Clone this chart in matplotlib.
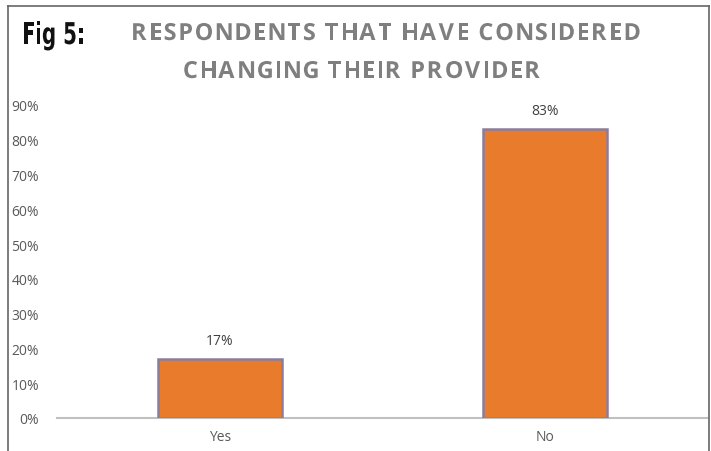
import matplotlib
matplotlib.use("Agg")
import matplotlib.pyplot as plt
from matplotlib.lines import Line2D
from matplotlib.ticker import FuncFormatter
from matplotlib.textpath import TextPath
from matplotlib.patches import PathPatch
from matplotlib.font_manager import FontProperties
from matplotlib.transforms import Affine2D

categories = ["Yes", "No"]
values = [0.17, 0.83]
yticks = [0.0, 0.1, 0.2, 0.3, 0.4, 0.5, 0.6, 0.7, 0.8, 0.9]
fig_label = "Fig 5:"
title_lines = ["RESPONDENTS THAT HAVE CONSIDERED", "CHANGING THEIR PROVIDER"]

W, H = 711, 452
fig = plt.figure(figsize=(W / 100, H / 100), dpi=100)

def fx(px):
    return px / W

def fy(py):
    return 1 - py / H

ax = fig.add_axes([fx(57), fy(419), fx(708) - fx(57), fy(106) - fy(419)])
x = list(range(len(categories)))
ax.bar(x, values, width=0.38, color="#E97B2C", edgecolor="#8A7D9C", linewidth=1.8, zorder=3)
ax.set_xlim(-0.5, 1.5)
ax.set_ylim(0, 0.9)
ax.set_yticks(yticks)
ax.yaxis.set_major_formatter(FuncFormatter(lambda v, p: f"{v*100:.0f}%"))
ax.set_xticks(x)
ax.set_xticklabels(categories)
for s in ["top", "right", "left"]:
    ax.spines[s].set_visible(False)
ax.spines["bottom"].set_color("#C0C0C0")
ax.spines["bottom"].set_linewidth(1.5)
ax.tick_params(axis="both", length=0, colors="#595959", labelsize=10)
ax.tick_params(axis="y", pad=13)
ax.tick_params(axis="x", pad=8)
for lab in ax.get_xticklabels() + ax.get_yticklabels():
    lab.set_fontfamily("Open Sans")

for xi, v in zip(x, values):
    ax.annotate(f"{v*100:.0f}%", (xi, v), xytext=(0, 8), textcoords="offset points",
                ha="center", va="bottom", fontsize=10, color="#404040", family="Open Sans")


def glyph_layout(s, size_px, prop, sx):
    items = []
    cur = 0.0
    gaps = 0
    space_adv = (TextPath((0, 0), "a a", size=size_px, prop=prop).get_extents().width -
                 TextPath((0, 0), "aa", size=size_px, prop=prop).get_extents().width)
    for ch in s:
        if ch == " ":
            cur += space_adv * sx
            gaps += 1
            continue
        tp = TextPath((0, 0), ch, size=size_px, prop=prop)
        ext = tp.get_extents()
        items.append((tp, cur, gaps))
        cur += (ext.x1 + size_px * 0.06) * sx
        gaps += 1
    return items, cur, gaps - 1


def add_text(s, y_base, size_px, prop, color, sx=1.0, spacing=None, x_left=None,
             center=None, width=None):
    items, natural, ngaps = glyph_layout(s, size_px, prop, sx)
    if spacing is None:
        spacing = (width - natural) / max(ngaps, 1) if width is not None else 0.0
    total = natural + spacing * ngaps
    if center is not None:
        x_left = center - total / 2
    for tp, off, g in items:
        tr = Affine2D().scale(sx, 1).translate(x_left + off + g * spacing, H - y_base)
        p = PathPatch(tr.transform_path(tp), facecolor=color, edgecolor="none")
        p.set_transform(Affine2D())
        fig.add_artist(p)
    return spacing


prop_fig = FontProperties(family="DejaVu Sans", weight="bold")
add_text(fig_label, 45, 30, prop_fig, "#111111", sx=0.66, spacing=0.3, x_left=22)

prop_title = FontProperties(family="Open Sans", weight="bold")
sp = add_text(title_lines[0], 41, 23.5, prop_title, "#7F7F7F", sx=1.0, center=386, width=510)
add_text(title_lines[1], 79, 23.5, prop_title, "#7F7F7F", sx=1.0, spacing=sp, center=362)

# Frame
fig.add_artist(Line2D([fx(8), fx(8)], [fy(7), 0], color="#666666", lw=1.2))
fig.add_artist(Line2D([fx(8), fx(709)], [fy(7), fy(7)], color="#666666", lw=1.2))
fig.add_artist(Line2D([fx(709), fx(709)], [fy(7), 0], color="#666666", lw=1.2))

fig.savefig("out.png", dpi=100)
